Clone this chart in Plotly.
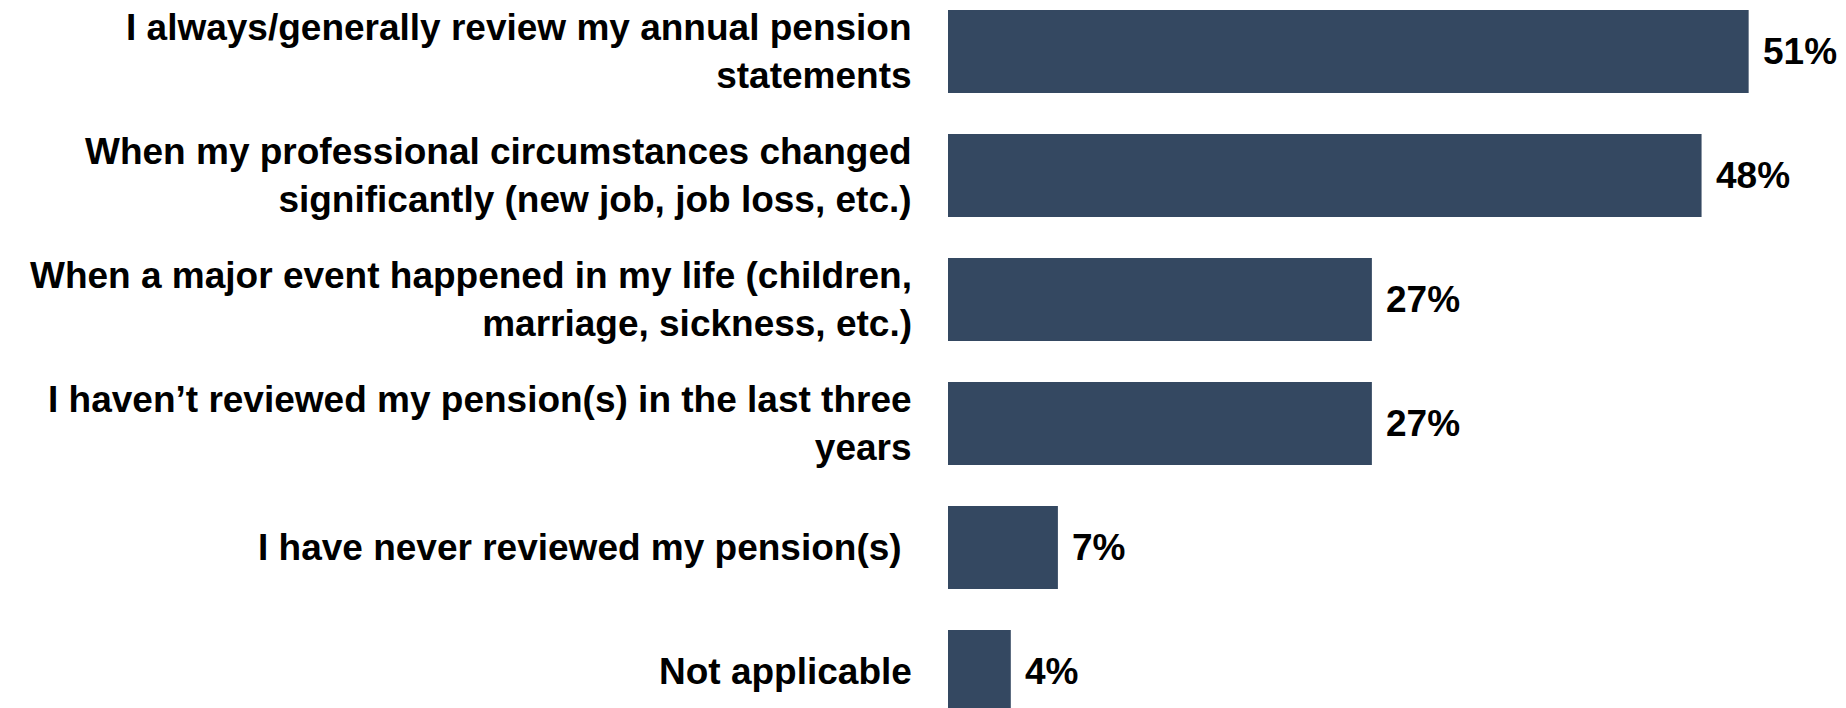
import plotly.graph_objects as go

# Survey: when respondents review their pension(s)
categories = [
    "I always/generally review my annual pension<br>statements",
    "When my professional circumstances changed<br>significantly (new job, job loss, etc.)",
    "When a major event happened in my life (children,<br>marriage, sickness, etc.)",
    "I haven\u2019t reviewed my pension(s) in the last three<br>years",
    "I have never reviewed my pension(s)\u00a0",
    "Not applicable",
]
values = [51, 48, 27, 27, 7, 4]
value_labels = ["51%", "48%", "27%", "27%", "7%", "4%"]

BAR_COLOR = "#344861"
FONT = dict(family="Liberation Sans, Arial, sans-serif", size=37, color="#000000", weight="bold")

fig = go.Figure(
    go.Bar(
        x=values,
        y=categories,
        orientation="h",
        marker=dict(color=BAR_COLOR, line=dict(width=0)),
        hoverinfo="skip",
    )
)

# Category labels to the left of the bars, right-aligned
for cat in categories:
    fig.add_annotation(
        x=-0.0379, xref="paper", y=cat, yref="y",
        text=cat, showarrow=False,
        xanchor="right", yanchor="middle", align="right",
        font=FONT,
    )

# Percentage labels just past the bar ends
for cat, v, lab in zip(categories, values, value_labels):
    fig.add_annotation(
        x=v, xref="x", y=cat, yref="y",
        text=lab, showarrow=False,
        xanchor="left", yanchor="middle", xshift=12,
        font=FONT,
    )

fig.update_layout(
    width=1846, height=708,
    margin=dict(l=948, r=0, t=0, b=0),
    paper_bgcolor="white", plot_bgcolor="white",
    bargap=0.33,
    showlegend=False,
    xaxis=dict(range=[0, 57.2], visible=False, fixedrange=True),
    yaxis=dict(
        type="category",
        categoryorder="array", categoryarray=categories,
        range=[5.294, -0.415],
        visible=False, fixedrange=True,
    ),
)

fig.write_html("out.html", config={"displayModeBar": False})
